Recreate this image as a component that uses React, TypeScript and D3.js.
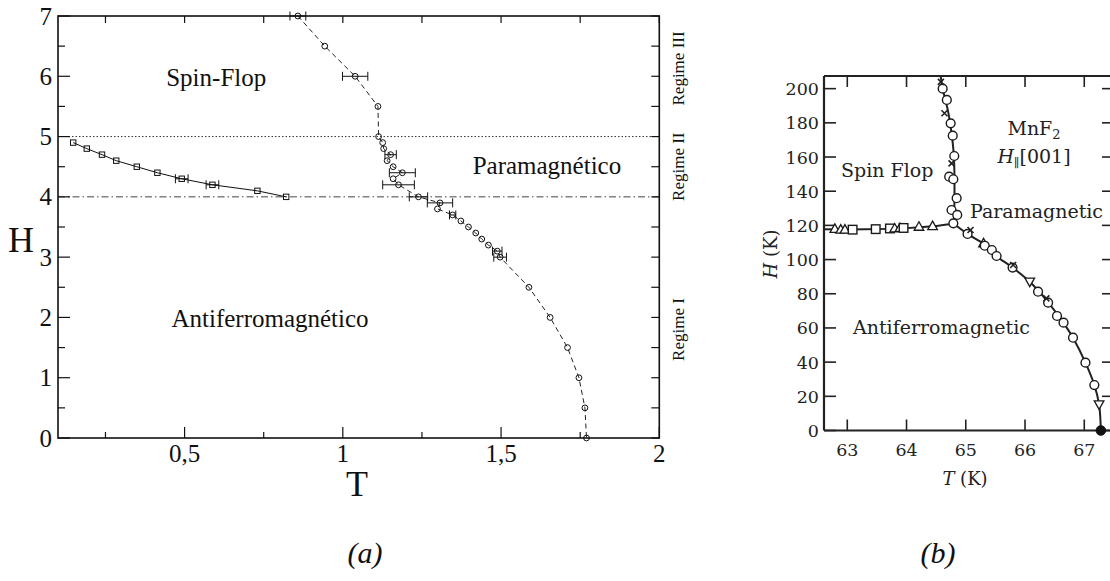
import React from "react";
import * as d3 from "d3";

// ---------- Panel (a) data ----------
const aCircT = [0.858, 0.943, 1.039, 1.111, 1.113, 1.126, 1.129, 1.151, 1.140, 1.159, 1.188, 1.159, 1.176, 1.239, 1.307, 1.299, 1.347, 1.373, 1.397, 1.420, 1.439, 1.460, 1.488, 1.497, 1.588, 1.655, 1.710, 1.746, 1.765, 1.770];
const aCircH = [7.0, 6.5, 6.0, 5.5, 5.0, 4.9, 4.8, 4.7, 4.6, 4.5, 4.4, 4.3, 4.2, 4.0, 3.9, 3.8, 3.7, 3.6, 3.5, 3.4, 3.3, 3.2, 3.1, 3.0, 2.5, 2.0, 1.5, 1.0, 0.5, 0.0];
const aCircErr = [0.025, 0, 0.04, 0, 0, 0, 0, 0.018, 0, 0, 0.041, 0, 0.05, 0.029, 0.04, 0, 0.01, 0, 0, 0, 0, 0, 0.015, 0.02, 0, 0, 0, 0, 0, 0];

const aSqT = [0.148, 0.191, 0.239, 0.284, 0.349, 0.414, 0.491, 0.588, 0.730, 0.821];
const aSqH = [4.9, 4.8, 4.7, 4.6, 4.5, 4.4, 4.3, 4.2, 4.1, 4.0];
const aSqErr = [0, 0, 0, 0, 0, 0, 0.02, 0.02, 0, 0];

const aXTicks = [0.5, 1, 1.5, 2];
const aXTickLabels = ["0,5", "1", "1,5", "2"];
const aXMinor = [0.25, 0.75, 1.25, 1.75];
const aYTicks = [0, 1, 2, 3, 4, 5, 6, 7];
const aYMinor = [0.5, 1.5, 2.5, 3.5, 4.5, 5.5, 6.5];
const aRegimes = ["Regime III", "Regime II", "Regime I"];
const aRegimeH = [6.13, 4.5, 1.8];

// ---------- Panel (b) data ----------
const bSfT = [62.79, 62.89, 62.96, 63.09, 63.48, 63.72, 63.80, 63.89, 63.95, 64.21, 64.44];
const bSfH = [118, 117.5, 117.5, 117.5, 117.8, 118.2, 118.2, 118.5, 118.5, 119.2, 119.6];
const bSfM = ["tu", "tu", "tu", "sq", "sq", "sq", "tu", "tu", "sq", "tu", "tu"];

const bVertT = [64.61, 64.68, 64.745, 64.78, 64.806, 64.72, 64.79, 64.846, 64.76, 64.856, 64.79];
const bVertH = [200, 193.4, 179.7, 172.5, 160.6, 148.5, 147, 135.9, 129, 126.1, 121.2];

const bAfT = [65.03, 65.30, 65.32, 65.44, 65.52, 65.79, 66.08, 66.22, 66.39, 66.54, 66.65, 66.81, 67.02, 67.17, 67.25, 67.28];
const bAfH = [115, 109.5, 108.1, 105.6, 102.1, 95.3, 87.1, 81.2, 74.8, 67, 63.1, 54.3, 39.7, 26.6, 15.3, 0];
const bAfM = ["c", "tu", "c", "c", "c", "c", "td", "c", "c", "c", "c", "c", "c", "c", "td", "f"];

const bCrossT = [64.58, 64.64, 64.76, 65.08, 65.80, 66.36];
const bCrossH = [204, 185.6, 156.3, 117.3, 96.8, 77.3];

// boundary lines
const bSfLineT = [62.607, 63.3, 64.0, 64.44, 64.79];
const bSfLineH = [117.7, 117.7, 118.4, 119.5, 121];
const bVertLineT = [64.575, 64.63, 64.70, 64.76, 64.80, 64.81, 64.80];
const bVertLineH = [207.4, 197, 187, 174, 160, 140, 121];
const bAfLineT = [64.80, 65.03, 65.31, 65.52, 65.79, 66.08, 66.39, 66.65, 66.81, 67.02, 67.17, 67.25, 67.28];
const bAfLineH = [121, 115, 109, 102, 95.3, 87, 75, 63, 54.3, 39.7, 26.6, 15.3, 0];

const bXTicks = [63, 64, 65, 66, 67];
const bYTicks = [0, 20, 40, 60, 80, 100, 120, 140, 160, 180, 200];

const SERIF = "'Liberation Serif', 'Times New Roman', serif";
const SERIF_B = "'DejaVu Serif', serif";

function marker(kind: string, x: number, y: number, key: string) {
  const s = 4.3;
  if (kind === "c")
    return <circle key={key} cx={x} cy={y} r={4.4} fill="#fff" stroke="#1a1a1a" strokeWidth={1.4} />;
  if (kind === "f")
    return <circle key={key} cx={x} cy={y} r={4.8} fill="#111" stroke="#111" strokeWidth={1} />;
  if (kind === "sq")
    return <rect key={key} x={x - s} y={y - s} width={2 * s} height={2 * s} fill="#fff" stroke="#1a1a1a" strokeWidth={1.4} />;
  if (kind === "tu")
    return <path key={key} d={`M${x},${y - 5} L${x + 4.8},${y + 3.5} L${x - 4.8},${y + 3.5} Z`} fill="#fff" stroke="#1a1a1a" strokeWidth={1.3} />;
  if (kind === "td")
    return <path key={key} d={`M${x},${y + 5} L${x + 4.8},${y - 3.5} L${x - 4.8},${y - 3.5} Z`} fill="#fff" stroke="#1a1a1a" strokeWidth={1.3} />;
  return null;
}

export default function App() {
  // Panel a scales
  const xA = d3.scaleLinear().domain([0.1, 2]).range([58, 659.3]);
  const yA = d3.scaleLinear().domain([0, 7]).range([438, 16]);
  const aL = xA.range()[0], aR = xA.range()[1], aT = yA.range()[1], aB = yA.range()[0];

  const lineA = d3.line<[number, number]>().x((d) => xA(d[0])).y((d) => yA(d[1]));
  const circPts: [number, number][] = aCircT.map((t, i) => [t, aCircH[i]]);
  const sqPts: [number, number][] = aSqT.map((t, i) => [t, aSqH[i]]);

  // Panel b scales
  const xB = d3.scaleLinear().domain([62.607, 67.485]).range([824, 1113]);
  const yB = d3.scaleLinear().domain([0, 207.4]).range([430.5, 76]);
  const bL = 824, bR = 1113, bT = 76, bBt = 430.5;
  const lineB = d3.line<[number, number]>().x((d) => xB(d[0])).y((d) => yB(d[1])).curve(d3.curveCatmullRom.alpha(0.5));
  const sfLine: [number, number][] = bSfLineT.map((t, i) => [t, bSfLineH[i]]);
  const vLine: [number, number][] = bVertLineT.map((t, i) => [t, bVertLineH[i]]);
  const afLine: [number, number][] = bAfLineT.map((t, i) => [t, bAfLineH[i]]);

  const ink = "#222";

  return (
    <svg width={1110} height={581} style={{ position: "absolute", left: 0, top: 0, background: "#fff" }}>
      <rect x={0} y={0} width={1110} height={581} fill="#fff" />
      {/* ===== Panel (a) ===== */}
      <g>
        {/* reference lines */}
        <line x1={aL} x2={aR} y1={yA(5)} y2={yA(5)} stroke="#333" strokeWidth={1} strokeDasharray="1.5,2" />
        <line x1={aL} x2={aR} y1={yA(4)} y2={yA(4)} stroke="#444" strokeWidth={1} strokeDasharray="7,3,1.5,3" />

        {/* data lines */}
        <path d={lineA(sqPts) || ""} fill="none" stroke="#111" strokeWidth={1} />
        <path d={lineA(circPts) || ""} fill="none" stroke="#222" strokeWidth={1} strokeDasharray="5,3.5" />

        {/* error bars */}
        {aCircT.map((t, i) =>
          aCircErr[i] > 0 ? (
            <g key={"ce" + i} stroke="#111" strokeWidth={1}>
              <line x1={xA(t - aCircErr[i])} x2={xA(t + aCircErr[i])} y1={yA(aCircH[i])} y2={yA(aCircH[i])} />
              <line x1={xA(t - aCircErr[i])} x2={xA(t - aCircErr[i])} y1={yA(aCircH[i]) - 4.5} y2={yA(aCircH[i]) + 4.5} />
              <line x1={xA(t + aCircErr[i])} x2={xA(t + aCircErr[i])} y1={yA(aCircH[i]) - 4.5} y2={yA(aCircH[i]) + 4.5} />
            </g>
          ) : null
        )}
        {aSqT.map((t, i) =>
          aSqErr[i] > 0 ? (
            <g key={"se" + i} stroke="#111" strokeWidth={1}>
              <line x1={xA(t - aSqErr[i])} x2={xA(t + aSqErr[i])} y1={yA(aSqH[i])} y2={yA(aSqH[i])} />
              <line x1={xA(t - aSqErr[i])} x2={xA(t - aSqErr[i])} y1={yA(aSqH[i]) - 4.5} y2={yA(aSqH[i]) + 4.5} />
              <line x1={xA(t + aSqErr[i])} x2={xA(t + aSqErr[i])} y1={yA(aSqH[i]) - 4.5} y2={yA(aSqH[i]) + 4.5} />
            </g>
          ) : null
        )}

        {/* markers */}
        {circPts.map((p, i) => (
          <circle key={"c" + i} cx={xA(p[0])} cy={yA(p[1])} r={2.9} fill="none" stroke="#111" strokeWidth={1} />
        ))}
        {sqPts.map((p, i) => (
          <rect key={"s" + i} x={xA(p[0]) - 2.7} y={yA(p[1]) - 2.7} width={5.4} height={5.4} fill="none" stroke="#111" strokeWidth={1} />
        ))}

        {/* frame */}
        <rect x={aL} y={aT} width={aR - aL} height={aB - aT} fill="none" stroke="#111" strokeWidth={1.6} />

        {/* ticks */}
        {aXTicks.map((t) => (
          <g key={"xt" + t} stroke="#111" strokeWidth={1.2}>
            <line x1={xA(t)} x2={xA(t)} y1={aB} y2={aB - 11} />
            <line x1={xA(t)} x2={xA(t)} y1={aT} y2={aT + 7} />
          </g>
        ))}
        {aXMinor.map((t) => (
          <g key={"xm" + t} stroke="#111" strokeWidth={1.2}>
            <line x1={xA(t)} x2={xA(t)} y1={aB} y2={aB - 6} />
            <line x1={xA(t)} x2={xA(t)} y1={aT} y2={aT + 7} />
          </g>
        ))}
        {aYTicks.map((h) => (
          <g key={"yt" + h} stroke="#111" strokeWidth={1.2}>
            <line x1={aL} x2={aL + 12} y1={yA(h)} y2={yA(h)} />
            <line x1={aR} x2={aR - 8} y1={yA(h)} y2={yA(h)} />
          </g>
        ))}
        {aYMinor.map((h) => (
          <g key={"ym" + h} stroke="#111" strokeWidth={1.2}>
            <line x1={aL} x2={aL + 7} y1={yA(h)} y2={yA(h)} />
            <line x1={aR} x2={aR - 8} y1={yA(h)} y2={yA(h)} />
          </g>
        ))}

        {/* tick labels */}
        {aXTicks.map((t, i) => (
          <text key={"xl" + t} x={xA(t)} y={462} textAnchor="middle" fontFamily={SERIF} fontSize={25} fill="#111">
            {aXTickLabels[i]}
          </text>
        ))}
        {aYTicks.map((h) => (
          <text key={"yl" + h} x={52} y={yA(h) + 8.5} textAnchor="end" fontFamily={SERIF} fontSize={25} fill="#111">
            {h}
          </text>
        ))}

        {/* axis labels */}
        <text x={21} y={252} textAnchor="middle" fontFamily={SERIF} fontSize={36} fill="#111">H</text>
        <text x={357} y={496} textAnchor="middle" fontFamily={SERIF} fontSize={36} fill="#111">T</text>

        {/* region labels */}
        <text x={xA(0.6)} y={86} textAnchor="middle" fontFamily={SERIF} fontSize={25} fill="#111">Spin-Flop</text>
        <text x={xA(1.645)} y={174} textAnchor="middle" fontFamily={SERIF} fontSize={25} fill="#111">Paramagnético</text>
        <text x={xA(0.77)} y={327} textAnchor="middle" fontFamily={SERIF} fontSize={25} fill="#111">Antiferromagnético</text>

        {/* regime labels */}
        {aRegimes.map((r, i) => (
          <text key={r} transform={`translate(684,${yA(aRegimeH[i])}) rotate(-90)`} textAnchor="middle" fontFamily={SERIF} fontSize={17} fill="#111">
            {r}
          </text>
        ))}

        <text x={365} y={563} textAnchor="middle" fontFamily={SERIF} fontStyle="italic" fontSize={30} fill="#111">(a)</text>
      </g>

      {/* ===== Panel (b) ===== */}
      <g>
        {/* lines */}
        <path d={lineB(sfLine) || ""} fill="none" stroke={ink} strokeWidth={2} />
        <path d={lineB(vLine) || ""} fill="none" stroke={ink} strokeWidth={2} />
        <path d={lineB(afLine) || ""} fill="none" stroke={ink} strokeWidth={2} />

        {/* frame */}
        <line x1={bL} x2={bL} y1={bT} y2={bBt} stroke={ink} strokeWidth={2.2} />
        <line x1={bL} x2={bR} y1={bT} y2={bT} stroke={ink} strokeWidth={2.2} />
        <line x1={bL} x2={bR} y1={bBt} y2={bBt} stroke={ink} strokeWidth={2.2} />
        <line x1={bR} x2={bR} y1={bT} y2={bBt} stroke={ink} strokeWidth={2.2} />

        {bXTicks.map((t) => (
          <g key={"bxt" + t} stroke={ink} strokeWidth={1.6}>
            <line x1={xB(t)} x2={xB(t)} y1={bBt} y2={bBt - 11} />
            <line x1={xB(t)} x2={xB(t)} y1={bT} y2={bT + 11} />
          </g>
        ))}
        {bYTicks.map((h) => (
          <g key={"byt" + h} stroke={ink} strokeWidth={1.6}>
            <line x1={bL} x2={bL + 12} y1={yB(h)} y2={yB(h)} />
            <line x1={bR} x2={bR - 11} y1={yB(h)} y2={yB(h)} />
          </g>
        ))}

        {/* markers */}
        {bSfT.map((t, i) => marker(bSfM[i], xB(t), yB(bSfH[i]), "sf" + i))}
        {bVertT.map((t, i) => marker("c", xB(t), yB(bVertH[i]), "v" + i))}
        {bAfT.map((t, i) => marker(bAfM[i], xB(t), yB(bAfH[i]), "af" + i))}
        {bCrossT.map((t, i) => {
          const x = xB(t), y = yB(bCrossH[i]);
          return (
            <path key={"x" + i} d={`M${x - 3},${y - 3}L${x + 3},${y + 3}M${x - 3},${y + 3}L${x + 3},${y - 3}`} stroke={ink} strokeWidth={1.6} />
          );
        })}

        {/* tick labels */}
        {bXTicks.map((t) => (
          <text key={"bxl" + t} x={xB(t)} y={456} textAnchor="middle" fontFamily={SERIF_B} fontSize={17.5} fill={ink}>
            {t}
          </text>
        ))}
        {bYTicks.map((h) => (
          <text key={"byl" + h} x={819} y={yB(h) + 6.5} textAnchor="end" fontFamily={SERIF_B} fontSize={17.5} fill={ink}>
            {h}
          </text>
        ))}

        {/* axis labels */}
        <text transform="translate(777,254) rotate(-90)" textAnchor="middle" fontFamily={SERIF_B} fontSize={18} fill={ink}>
          <tspan fontStyle="italic">H</tspan> (K)
        </text>
        <text x={965} y={485} textAnchor="middle" fontFamily={SERIF_B} fontSize={18} fill={ink}>
          <tspan fontStyle="italic">T</tspan> (K)
        </text>

        {/* region labels */}
        <text x={841} y={177} fontFamily={SERIF_B} fontSize={19} fill={ink}>Spin Flop</text>
        <text x={970} y={218} fontFamily={SERIF_B} fontSize={19} fill={ink}>Paramagnetic</text>
        <text x={853} y={334} fontFamily={SERIF_B} fontSize={19} fill={ink}>Antiferromagnetic</text>
        <text x={1034} y={135} textAnchor="middle" fontFamily={SERIF_B} fontSize={19} fill={ink}>
          MnF<tspan fontSize={13} dy={4}>2</tspan>
        </text>
        <text x={1034} y={163} textAnchor="middle" fontFamily={SERIF_B} fontSize={19} fill={ink}>
          <tspan fontStyle="italic">H</tspan>
          <tspan fontSize={12} dy={4}>∥</tspan>
          <tspan dy={-4}>[001]</tspan>
        </text>

        <text x={938} y={563} textAnchor="middle" fontFamily={SERIF} fontStyle="italic" fontSize={30} fill="#111">(b)</text>
      </g>
    </svg>
  );
}
